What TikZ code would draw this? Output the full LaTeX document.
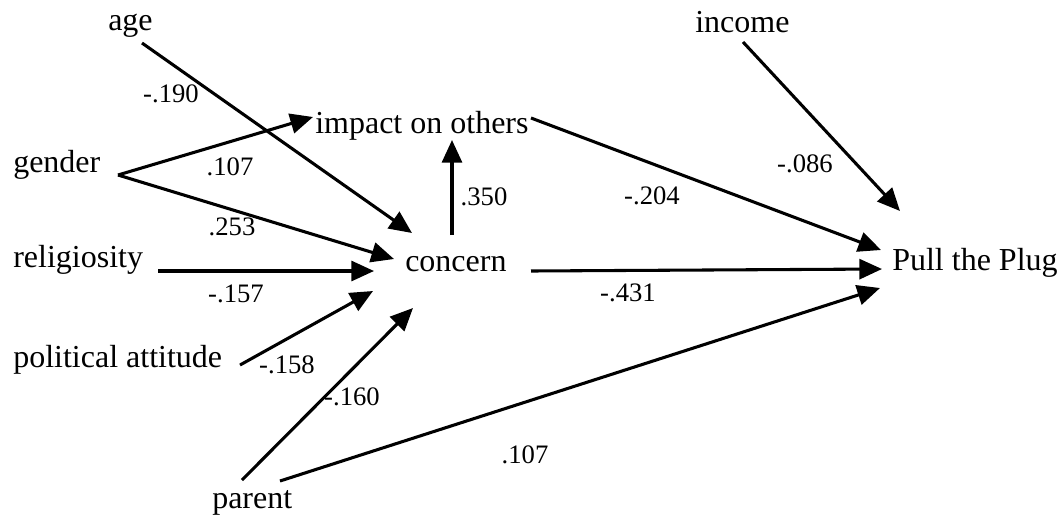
\documentclass[tikz,border=0pt]{standalone}
\usepackage{fontspec}
\setmainfont{Liberation Serif}
\usetikzlibrary{arrows.meta}
\begin{document}
\begin{tikzpicture}[x=0.75pt,y=-0.75pt,
  var/.style={inner sep=0pt, anchor=base west, font=\fontsize{24}{28}\selectfont},
  coef/.style={inner sep=0pt, font=\fontsize{20}{24}\selectfont},
  effect/.style={line width=2.3pt, -{Triangle[length=17pt,width=15pt]}}]
\useasboundingbox (0,0) rectangle (1064,519);

% variables
\node[var] (age)      at (108,30)  {age};
\node[var] (income)   at (695,32)  {income};
\node[var] (impact)   at (315,133) {impact on others};
\node[var] (gender)   at (13,172)  {gender};
\node[var] (relig)    at (13,267)  {religiosity};
\node[var] (concern)  at (405,271) {concern};
\node[var] (plug)     at (892,270) {Pull the Plug};
\node[var] (polit)    at (13,367)  {political attitude};
\node[var] (parent)   at (212,508) {parent};

% connector ends
\coordinate (age-o)     at (142,43);
\coordinate (income-o)  at (743,42);
\coordinate (gender-o)  at (118,175);
\coordinate (relig-o)   at (158,271);
\coordinate (polit-o)   at (240,365);
\coordinate (parent-o1) at (242,480);
\coordinate (parent-o2) at (280,481);
\coordinate (impact-o)  at (531,118);
\coordinate (concern-o1) at (452,235);
\coordinate (concern-o2) at (531,271);

\coordinate (impact-i1) at (313,117);
\coordinate (impact-i2) at (452,140);
\coordinate (concern-a) at (412,233);
\coordinate (concern-g) at (394,259);
\coordinate (concern-r) at (374,271);
\coordinate (concern-p) at (373,291);
\coordinate (concern-c) at (413,308);
\coordinate (plug-inc)  at (900,211);
\coordinate (plug-imp)  at (881,250);
\coordinate (plug-con)  at (882,269);
\coordinate (plug-par)  at (880,288);

% paths
\draw[effect] (age-o) -- (concern-a);
\draw[effect] (gender-o) -- (impact-i1);
\draw[effect] (gender-o) -- (concern-g);
\draw[effect] (relig-o) -- (concern-r);
\draw[effect] (polit-o) -- (concern-p);
\draw[effect] (parent-o1) -- (concern-c);
\draw[effect] (parent-o2) -- (plug-par);
\draw[effect] (concern-o1) -- (impact-i2);
\draw[effect] (concern-o2) -- (plug-con);
\draw[effect] (impact-o) -- (plug-imp);
\draw[effect] (income-o) -- (plug-inc);

% coefficients
\node[coef] (c-age)    at (171,94)  {-.190};
\node[coef] (c-genimp) at (230,167) {.107};
\node[coef] (c-gencon) at (232,227) {.253};
\node[coef] (c-rel)    at (236,294) {-.157};
\node[coef] (c-pol)    at (287,365) {-.158};
\node[coef] (c-parcon) at (352,397) {-.160};
\node[coef] (c-concimp) at (484,197) {.350};
\node[coef] (c-impplug) at (652,196) {-.204};
\node[coef] (c-inc)    at (805,164) {-.086};
\node[coef] (c-conplug) at (628,293) {-.431};
\node[coef] (c-parplug) at (525,455) {.107};
\end{tikzpicture}
\end{document}
